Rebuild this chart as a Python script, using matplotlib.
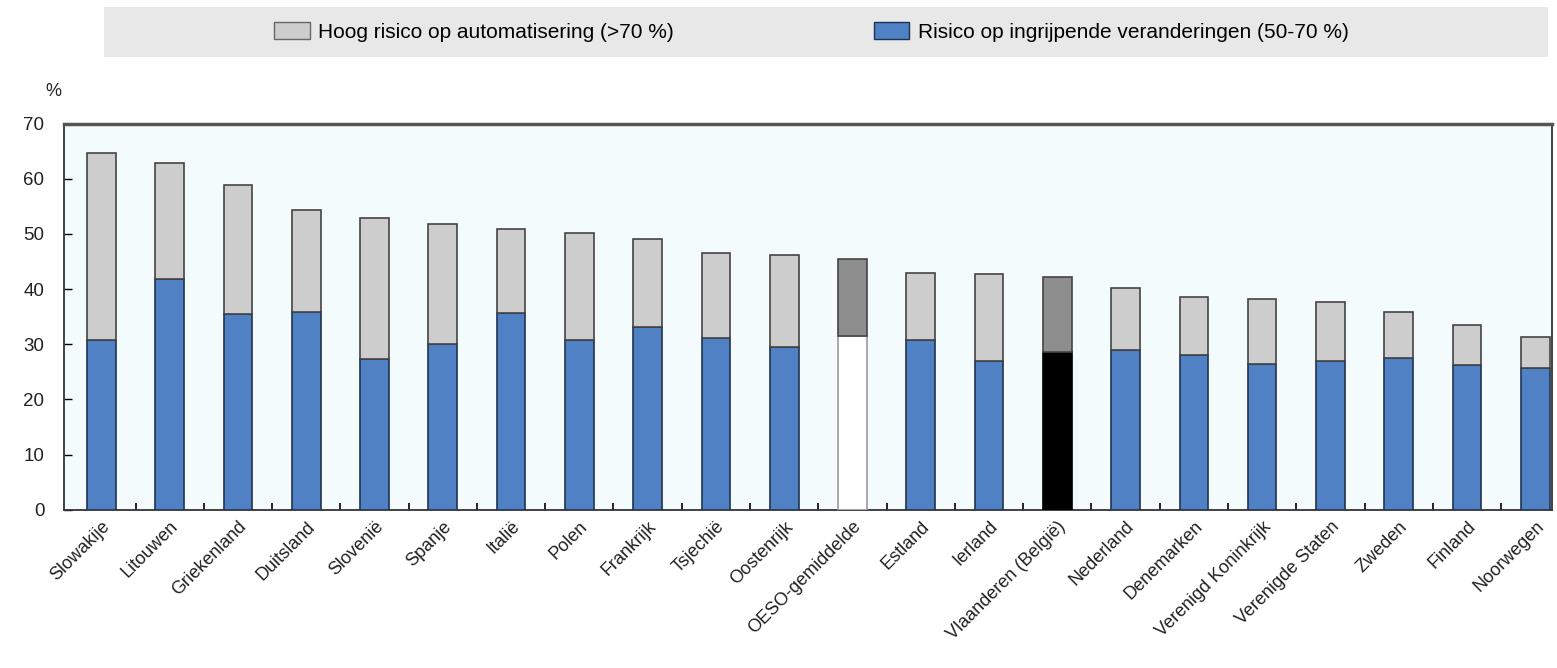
import matplotlib.pyplot as plt
import numpy as np

plt.rcParams['font.family'] = ['Liberation Sans', 'DejaVu Sans']

landen = ['Slowakije', 'Litouwen', 'Griekenland', 'Duitsland', 'Slovenië', 'Spanje',
          'Italië', 'Polen', 'Frankrijk', 'Tsjechië', 'Oostenrijk', 'OESO-gemiddelde',
          'Estland', 'Ierland', 'Vlaanderen (België)', 'Nederland', 'Denemarken',
          'Verenigd Koninkrijk', 'Verenigde Staten', 'Zweden', 'Finland', 'Noorwegen']
# risico op ingrijpende veranderingen (50-70 %)
ingrijpend = [30.8, 41.8, 35.5, 35.8, 27.4, 30.0, 35.7, 30.8, 33.1, 31.2, 29.5, 31.5,
              30.8, 26.9, 28.6, 29.0, 28.0, 26.4, 26.9, 27.5, 26.3, 25.7]
# totaal (hoog risico + ingrijpend)
totaal = [64.7, 62.9, 58.9, 54.3, 52.9, 51.8, 50.9, 50.2, 49.1, 46.6, 46.2, 45.5,
          43.0, 42.8, 42.2, 40.2, 38.6, 38.2, 37.7, 35.9, 33.5, 31.3]
hoog = [t - i for t, i in zip(totaal, ingrijpend)]

x = np.arange(len(landen))
blauw = '#4f81c4'
grijs = '#cdcdcd'

fig = plt.figure(figsize=(15.57, 6.68), dpi=100)
ax = fig.add_axes([0.041, 0.237, 0.956, 0.578])
ax.set_facecolor('#f3fbfd')

kleur_onder = [blauw] * len(landen)
kleur_boven = [grijs] * len(landen)
rand_onder = ['#1f3350'] * len(landen)
oeso = landen.index('OESO-gemiddelde')
vl = landen.index('Vlaanderen (België)')
kleur_onder[oeso] = 'white'
rand_onder[oeso] = '#999999'
kleur_boven[oeso] = '#8e8e8e'
kleur_onder[vl] = 'black'
rand_onder[vl] = 'black'
kleur_boven[vl] = '#8e8e8e'

w = 0.42
ax.bar(x, ingrijpend, w, color=kleur_onder, edgecolor=rand_onder, linewidth=1.2, zorder=3)
ax.bar(x, hoog, w, bottom=ingrijpend, color=kleur_boven, edgecolor='#444444',
       linewidth=1.2, zorder=3)

ax.set_ylim(0, 70)
ax.set_xlim(-0.55, len(landen) - 0.75)
ax.set_yticks(range(0, 71, 10))
ax.set_xticks(x)
ax.set_xticklabels(landen, rotation=45, ha='right', rotation_mode='anchor', fontsize=13,
                   color='#222222')
ax.tick_params(axis='x', length=0, pad=6)
ax.set_xticks(x[:-1] + 0.5, minor=True)
ax.tick_params(axis='x', which='minor', direction='in', length=5, width=1.2)
ax.tick_params(axis='y', direction='in', length=6, width=1, labelsize=13.5, pad=14,
               labelcolor='#222222')
for s in ax.spines.values():
    s.set_linewidth(1.3)
    s.set_color('#333333')
ax.spines['top'].set_linewidth(2.5)
ax.spines['top'].set_color('#555555')

fig.text(0.029, 0.857, '%', fontsize=13, color='#222222')

# legenda in grijze band bovenaan
band = fig.add_axes([0.067, 0.915, 0.927, 0.075])
band.set_facecolor('#e8e8e8')
band.set_xticks([])
band.set_yticks([])
for s in band.spines.values():
    s.set_visible(False)
h1 = plt.Rectangle((0, 0), 1, 1, facecolor=grijs, edgecolor='#666666')
h2 = plt.Rectangle((0, 0), 1, 1, facecolor=blauw, edgecolor='#1f3350')
band.legend([h1, h2], ['Hoog risico op automatisering (>70 %)',
                       'Risico op ingrijpende veranderingen (50-70 %)'],
            loc='center', ncol=2, frameon=False, fontsize=15, columnspacing=9.6,
            handlelength=1.7, handleheight=0.9, handletextpad=0.4,
            bbox_to_anchor=(0.49, 0.5))

plt.savefig('out.png')
